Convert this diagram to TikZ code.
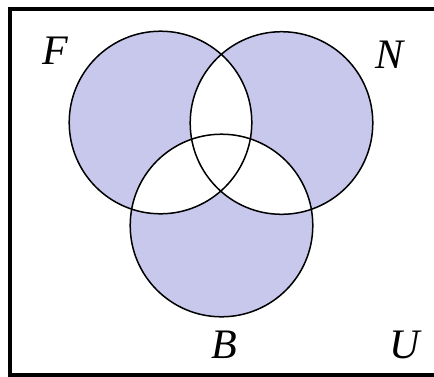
\documentclass[tikz,border=0pt]{standalone}
\usepackage{fontspec}
\setmainfont{Liberation Serif}
\definecolor{lav}{RGB}{200,200,236}
\begin{document}
\begin{tikzpicture}[x=1pt,y=-1pt,
  lbl/.style={font=\fontsize{42}{50}\selectfont\itshape, inner sep=0pt},
  ring/.style={draw=black, line width=1.5pt}]
\useasboundingbox (0,0) rectangle (434,376);
\fill[white] (0,0) rectangle (434,376);
% circles
\coordinate (cF) at (160.5,122.5);
\coordinate (cN) at (281.5,123);
\coordinate (cB) at (221.5,225.5);
\def\r{91.3}
\fill[lav] (cF) circle (\r);
\fill[lav] (cN) circle (\r);
\fill[lav] (cB) circle (\r);
\begin{scope}
  \clip (cF) circle (\r);
  \fill[white] (cN) circle (\r);
  \fill[white] (cB) circle (\r);
\end{scope}
\begin{scope}
  \clip (cN) circle (\r);
  \fill[white] (cB) circle (\r);
\end{scope}
\draw[ring] (cF) circle (\r);
\draw[ring] (cN) circle (\r);
\draw[ring] (cB) circle (\r);
% frame
\draw[line width=4pt] (440,8.5) -- (9.5,8.5) -- (9.5,374.5) -- (440,374.5);
% labels
\node[lbl] (F) at (55,51) {F};
\node[lbl] (N) at (390,55) {N};
\node[lbl] (B) at (224,345) {B};
\node[lbl] (U) at (405,345) {U};
\end{tikzpicture}
\end{document}
